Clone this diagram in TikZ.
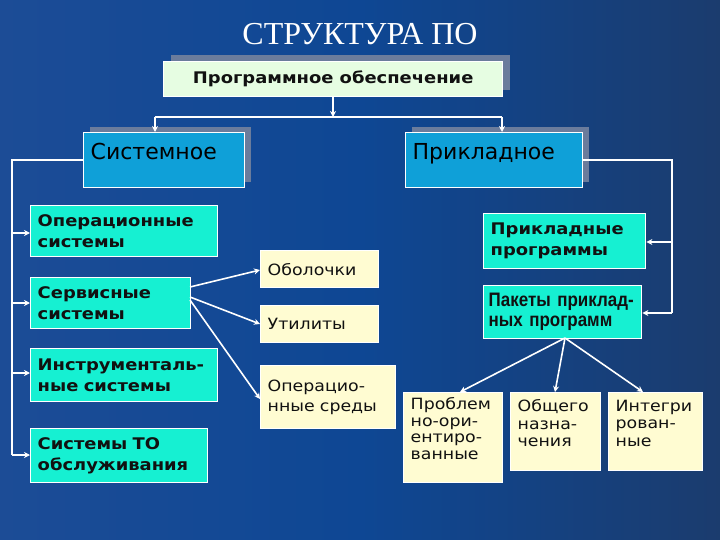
\documentclass[tikz,border=0pt]{standalone}
\usepackage{fontspec}
\usetikzlibrary{arrows.meta,calc}
\setmainfont{DejaVu Sans}
\newfontfamily\widefont[FakeStretch=1.12]{DejaVu Sans}
\newfontfamily\titlefont{Liberation Serif}
\newfontfamily\narrowfont[FakeStretch=0.87]{Liberation Sans}
\definecolor{bgL}{HTML}{1C4C96}
\definecolor{bgM}{HTML}{0E4794}
\definecolor{bgR}{HTML}{1B3C6E}
\definecolor{paleg}{HTML}{E6FDE2}
\definecolor{cyanb}{HTML}{0FA0D8}
\definecolor{teal}{HTML}{16F0D2}
\definecolor{paley}{HTML}{FFFCD2}
\definecolor{shadowc}{HTML}{6B7C9C}
\definecolor{ink}{HTML}{111111}
\tikzset{
  box/.style={draw=white, line width=1.4pt, anchor=north west, inner xsep=7pt, inner ysep=2pt, align=left, text=ink},
  topbox/.style={box, fill=paleg, font=\widefont\bfseries\fontsize{16}{19}\selectfont},
  bigbox/.style={box, fill=cyanb, font=\fontsize{22}{26}\selectfont, text=black, text depth=17pt},
  tealbox/.style={box, fill=teal, font=\widefont\bfseries\fontsize{16}{21}\selectfont},
  yelbox/.style={box, fill=paley, font=\widefont\fontsize{15.5}{19.5}\selectfont},
  lowbox/.style={box, fill=paley, inner ysep=0pt, font=\widefont\fontsize{15.5}{16.5}\selectfont},
  shad/.style={fill=shadowc, draw=none},
  conn/.style={draw=white, line width=1.6pt},
  arr/.style={conn, -{Stealth[length=6pt,width=6pt]}},
}
\begin{document}
\begin{tikzpicture}[x=1pt,y=-1pt]
\shade[left color=bgL, right color=bgR, middle color=bgM] (0,0) rectangle (720,540);
\useasboundingbox (0,0) rectangle (720,540);

\node[text=white, font=\titlefont\fontsize{32}{34}\selectfont] (title) at (360,34) {СТРУКТУРА ПО};

% shadows
\fill[shad] (171,55) rectangle (510,90);
\fill[shad] (90,127) rectangle (251,182);
\fill[shad] (412,127) rectangle (589,182);

% top level
\node[topbox, minimum width=339pt, minimum height=35pt, align=center] (po) at (163,61) {Программное обеспечение};
\node[bigbox, text width=147pt, minimum height=55pt] (sys) at (83,132) {Системное};
\node[bigbox, text width=163pt, minimum height=55pt] (app) at (405,132) {Прикладное};

% system branch
\node[tealbox, text width=173pt, minimum height=51pt] (os) at (30,205) {Операционные\\системы};
\node[tealbox, text width=146pt, minimum height=51pt] (srv) at (30,277) {Сервисные\\системы};
\node[tealbox, text width=173pt, minimum height=53pt] (ins) at (30,348) {Инструменталь-\\ные системы};
\node[tealbox, text width=163pt, minimum height=54pt] (to) at (30,428) {Системы ТО\\обслуживания};

\node[yelbox, text width=104pt, minimum height=37pt] (obo) at (260,250) {Оболочки};
\node[yelbox, text width=104pt, minimum height=37pt] (uti) at (260,305) {Утилиты};
\node[yelbox, text width=121pt, minimum height=63pt] (env) at (260,365) {Операцио-\\нные среды};

% application branch
\node[tealbox, text width=148pt, minimum height=55pt] (prog) at (483,213) {Прикладные\\программы};
\node[tealbox, text width=148pt, minimum height=53pt, inner xsep=5pt, font=\narrowfont\bfseries\fontsize{19.5}{20}\selectfont] (pak) at (483,285) {Пакеты приклад-\\ных программ};

\node[lowbox] (prob) at (403,392) {\parbox[c][90pt][t]{85pt}{\vspace*{5pt}Проблем\\но-ори-\\ентиро-\\ванные}};
\node[lowbox] (gen) at (510,392) {\parbox[c][78pt][t]{76pt}{\fontsize{15.5}{17.5}\selectfont\vspace*{7pt}Общего\\назна-\\чения}};
\node[lowbox] (int) at (608,392) {\parbox[c][78pt][t]{80pt}{\fontsize{15.5}{17.5}\selectfont\vspace*{7pt}Интегри\\рован-\\ные}};

% top connectors
\coordinate (hL) at (155,117);
\coordinate (hR) at (502,117);
\coordinate (hM) at (333,117);
\draw[arr] (po.south -| hM) -- (hM);
\draw[conn] (hL) -- (hR);
\draw[arr] (hL) -- (hL |- sys.north);
\draw[arr] (hR) -- (hR |- app.north);

% left bus
\coordinate (lb) at (12,160);
\coordinate (lbe) at (12,455);
\draw[conn] (sys.west |- lb) -- (lb) -- (lbe);
\draw[arr] (lb |- 0,233) -- (os.west |- 0,233);
\draw[arr] (lb |- 0,303) -- (srv.west |- 0,303);
\draw[arr] (lb |- 0,373) -- (ins.west |- 0,373);
\draw[arr] (lbe) -- (to.west |- lbe);

% service fan
\coordinate (s1) at (190,287);
\coordinate (s2) at (190,297);
\coordinate (s3) at (190,300);
\draw[arr] (s1) -- (obo.west |- 0,270);
\draw[arr] (s2) -- (uti.west |- 0,324);
\draw[arr] (s3) -- (env.west |- 0,399);

% right bus
\coordinate (rb) at (672,160);
\coordinate (rbe) at (672,313);
\draw[conn] (app.east |- rb) -- (rb) -- (rbe);
\draw[arr] (rb |- 0,242) -- (prog.east |- 0,242);
\draw[arr] (rbe) -- (pak.east |- rbe);

% package fan
\coordinate (pk) at (565,338);
\draw[arr] (pk) -- (prob.north -| 460,0);
\draw[arr] (pk) -- (gen.north -| 555,0);
\draw[arr] (pk) -- (int.north -| 643,0);
\end{tikzpicture}
\end{document}
